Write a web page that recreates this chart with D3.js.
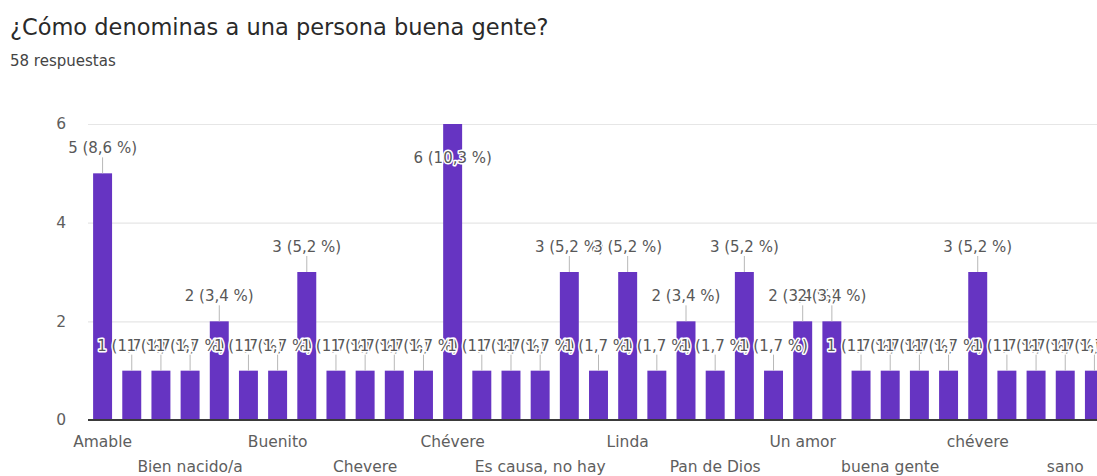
<!DOCTYPE html>
<html lang="es">
<head>
<meta charset="utf-8">
<title>¿Cómo denominas a una persona buena gente?</title>
<script src="https://cdn.jsdelivr.net/npm/d3@7"></script>
<style>
  html, body { margin: 0; padding: 0; background: #fff; }
  svg { display: block; font-family: "DejaVu Sans", sans-serif; }
</style>
</head>
<body>
<svg id="chart" width="1097" height="476"></svg>
<script>
// Respuestas agrupadas (orden alfabético de la hoja de respuestas)
const categories = [
  "Amable", "Amigable", "Bacán", "Bien nacido/a", "Buena gente", "Buena onda",
  "Buenito", "Bueno", "Causa", "Chevere", "Chevere persona", "Chido",
  "Chévere", "De buen corazón", "Educado", "Es causa, no hay", "Gente buena", "Humilde",
  "Linda", "Lindo", "Noble", "Pan de Dios", "Persona buena", "Solidario",
  "Un amor", "Un pan de Dios", "amable", "buena gente", "buena persona", "bueno",
  "chévere", "gente", "noble", "sano", "un amor"
];
const counts = [
  5, 1, 1, 1, 2, 1,
  1, 3, 1, 1, 1, 1,
  6, 1, 1, 1, 3, 1,
  3, 1, 2, 1, 3, 1,
  2, 2, 1, 1, 1, 1,
  3, 1, 1, 1, 1
];
const yTicks = [0, 2, 4, 6];
const titleText = "¿Cómo denominas a una persona buena gente?";
const subtitleText = "58 respuestas";

const total = d3.sum(counts);
const data = categories.map((c, i) => ({ cat: c, value: counts[i], i }));

const svg = d3.select("#chart");
const plot = { left: 88, right: 1109, top: 124, bottom: 420 };

const x = d3.scaleBand()
  .domain(categories)
  .range([plot.left, plot.right])
  .paddingInner(0.35)
  .paddingOuter(0.175);

const y = d3.scaleLinear()
  .domain([0, d3.max(yTicks)])
  .range([plot.bottom, plot.top]);

// Title and response count
svg.append("text")
  .attr("x", 10).attr("y", 35)
  .attr("font-size", 22.5)
  .attr("fill", "#2a2a2a")
  .text(titleText);

svg.append("text")
  .attr("x", 10).attr("y", 66)
  .attr("font-size", 15)
  .attr("fill", "#444")
  .text(subtitleText);

// Horizontal gridlines with value labels
const yAxis = svg.append("g")
  .attr("transform", `translate(${plot.left},0)`)
  .call(d3.axisLeft(y)
    .tickValues(yTicks)
    .tickSize(-(plot.right - plot.left))
    .tickPadding(22)
    .tickFormat(d3.format("d")));
yAxis.select(".domain").remove();
yAxis.selectAll(".tick line")
  .attr("stroke", "#e6e6e6")
  .attr("stroke-width", 1.2);
yAxis.selectAll(".tick text")
  .attr("font-size", 15.5)
  .attr("fill", "#5e5e5e")
  .attr("font-family", "DejaVu Sans, sans-serif");

// Bars
svg.append("g")
  .selectAll("rect")
  .data(data)
  .join("rect")
  .attr("x", d => x(d.cat))
  .attr("y", d => y(d.value))
  .attr("width", x.bandwidth())
  .attr("height", d => y(0) - y(d.value))
  .attr("fill", "#6634c2");

// Baseline
svg.append("line")
  .attr("x1", plot.left).attr("x2", plot.right)
  .attr("y1", y(0)).attr("y2", y(0))
  .attr("stroke", "#3a3a3a")
  .attr("stroke-width", 2);

// Category labels: every third one, alternating between two rows
const xAxis = svg.append("g")
  .attr("transform", `translate(0,${plot.bottom})`)
  .call(d3.axisBottom(x).tickSize(0).tickFormat((d, i) => i % 3 === 0 ? d : ""));
xAxis.select(".domain").remove();
xAxis.selectAll(".tick text")
  .attr("font-size", 15.5)
  .attr("fill", "#5e5e5e")
  .attr("font-family", "DejaVu Sans, sans-serif")
  .attr("dy", null)
  .attr("y", (d, i) => (i % 6 === 0 ? 27 : 52));

// Value annotations with stems
const fmtPct = v => `${v} (${(v / total * 100).toFixed(1).replace(".", ",")} %)`;
const atTop = d => d.value >= d3.max(yTicks);

const ann = svg.append("g");
data.forEach(d => {
  const cx = x(d.cat) + x.bandwidth() / 2;
  const top = y(d.value);
  if (!atTop(d)) {
    ann.append("line")
      .attr("x1", cx).attr("x2", cx)
      .attr("y1", top).attr("y2", top - 16)
      .attr("stroke", "#b8b8b8")
      .attr("stroke-width", 1);
  }
  ann.append("text")
    .attr("x", cx)
    .attr("y", atTop(d) ? top + 39 : top - 20)
    .attr("text-anchor", "middle")
    .attr("font-size", 15)
    .attr("fill", "#585858")
    .attr("stroke", "#fff")
    .attr("stroke-width", 3)
    .attr("stroke-linejoin", "round")
    .attr("paint-order", "stroke")
    .text(fmtPct(d.value));
});
</script>
</body>
</html>
